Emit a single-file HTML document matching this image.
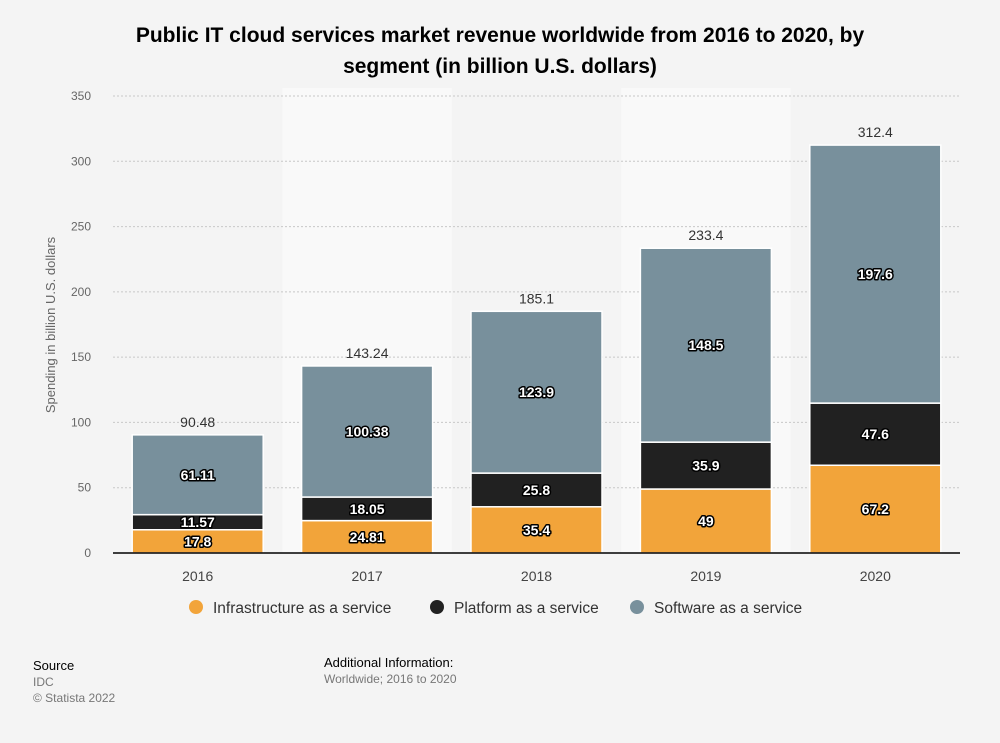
<!DOCTYPE html>
<html><head><meta charset="utf-8"><style>
body{margin:0;background:#f4f4f4;font-family:"Liberation Sans",Arial,sans-serif;}
#wrap{position:relative;width:1000px;height:743px;background:#f4f4f4;overflow:hidden}
</style></head><body>
<div id="wrap">
<svg id="chart" width="1000" height="743">
<text x="500" y="42" text-anchor="middle" font-size="21" font-weight="bold" fill="#000">Public IT cloud services market revenue worldwide from 2016 to 2020, by</text>
<text x="500" y="73" text-anchor="middle" font-size="21" font-weight="bold" fill="#000">segment (in billion U.S. dollars)</text>
<g id="bands"></g><g id="grid"></g><g id="bars"></g><g id="labels"></g>
<text transform="translate(55,325) rotate(-90)" text-anchor="middle" font-size="13" fill="#666">Spending in billion U.S. dollars</text>
<g>
<circle cx="196" cy="607" r="7" fill="#f2a43a"/>
<text x="213" y="613" font-size="15.5" fill="#333">Infrastructure as a service</text>
<circle cx="437" cy="607" r="7" fill="#212121"/>
<text x="454" y="613" font-size="15.5" fill="#333">Platform as a service</text>
<circle cx="637" cy="607" r="7" fill="#78909c"/>
<text x="654" y="613" font-size="15.5" fill="#333">Software as a service</text>
</g>
<text x="33" y="670" font-size="13" fill="#000">Source</text>
<text x="33" y="686" font-size="12" fill="#777">IDC</text>
<text x="33" y="702" font-size="12" fill="#777">© Statista 2022</text>
<text x="324" y="667" font-size="13" fill="#000">Additional Information:</text>
<text x="324" y="683" font-size="12" fill="#777">Worldwide; 2016 to 2020</text>
</svg>
</div>
<script>
const categories=["2016","2017","2018","2019","2020"];
const iaas=[17.8,24.81,35.4,49,67.2];
const paas=[11.57,18.05,25.8,35.9,47.6];
const saas=[61.11,100.38,123.9,148.5,197.6];
const totals=["90.48","143.24","185.1","233.4","312.4"];
const yTicks=[0,50,100,150,200,250,300,350];
const NS="http://www.w3.org/2000/svg";
const x0=113,x1=960,y0=553,y1=96,yMax=350;
const band=(x1-x0)/categories.length,barW=131;
const yS=v=>y0-v/yMax*(y0-y1);
const xC=i=>x0+band*(i+0.5);
function mk(tag,attrs,parent){const e=document.createElementNS(NS,tag);for(const k in attrs)e.setAttribute(k,attrs[k]);document.getElementById(parent).appendChild(e);return e;}
categories.forEach((c,i)=>{if(i%2===1){const r=mk('rect',{x:x0+band*i,y:88,width:band,height:y0-88,fill:'#f9f9f9'},'bands');

}});
yTicks.forEach(t=>{if(t>0){const l=mk('line',{x1:x0,x2:x1,y1:yS(t),y2:yS(t),stroke:'#c8c8c8','stroke-dasharray':'2,2'},'grid');

}
const tx=mk('text',{x:91,y:yS(t)+4,'text-anchor':'end','font-size':12,fill:'#666'},'grid');tx.textContent=t;

});
const series=[[iaas,'#f2a43a','iaas'],[paas,'#212121','paas'],[saas,'#78909c','saas']];
categories.forEach((c,i)=>{let base=0;const xl=xC(i)-barW/2;
series.forEach(([arr,col,nm])=>{const v=arr[i];const yt=yS(base+v),yb=yS(base);
const r=mk('rect',{x:xl,y:yt,width:barW,height:yb-yt,fill:col,stroke:'#fff','stroke-width':1.5},'bars');


const t=mk('text',{x:xC(i),y:(yt+yb)/2+5,'text-anchor':'middle','font-size':14,'font-weight':'bold',fill:'#fff',stroke:'#000','stroke-width':3,'paint-order':'stroke','stroke-linejoin':'round'},'labels');t.textContent=String(v);


base+=v;});
const tt=mk('text',{x:xC(i),y:yS(base)-8,'text-anchor':'middle','font-size':14,fill:'#333'},'labels');tt.textContent=totals[i];


const xl2=mk('text',{x:xC(i),y:581,'text-anchor':'middle','font-size':14,fill:'#444'},'labels');xl2.textContent=c;

});
const ax=mk('line',{x1:x0,x2:x1,y1:y0,y2:y0,stroke:'#000','stroke-width':1.5},'labels');


</script>
</body></html>
